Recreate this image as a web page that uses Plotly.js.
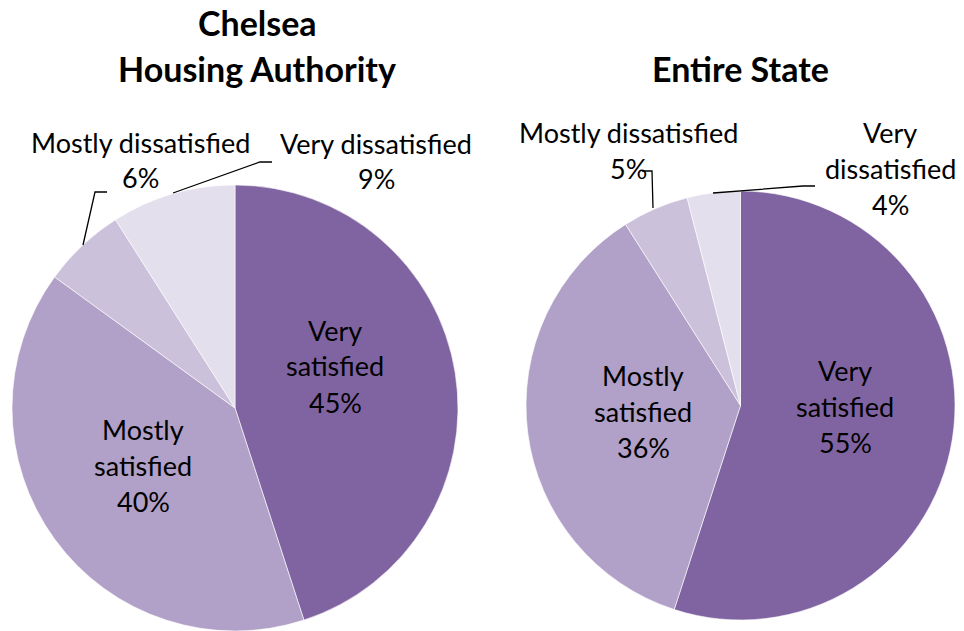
<!DOCTYPE html>
<html>
<head>
<meta charset="utf-8">
<script src="https://cdn.plot.ly/plotly-3.0.1.min.js"></script>
<style>html,body{margin:0;padding:0;background:#fff;}#chart{width:964px;height:631px;}</style>
</head>
<body>
<div id="chart"></div>
<script>
// ---- data ----
const categories = ["Very satisfied", "Mostly satisfied", "Mostly dissatisfied", "Very dissatisfied"];
const chelseaValues = [45, 40, 6, 9];
const stateValues = [55, 36, 5, 4];
const chelseaDisplay = ["Very<br>satisfied", "Mostly<br>satisfied", "Mostly dissatisfied", "Very dissatisfied"];
const stateDisplay = ["Very<br>satisfied", "Mostly<br>satisfied", "Mostly dissatisfied", "Very<br>dissatisfied"];
const chartTitles = ["Chelsea<br>Housing Authority", "Entire State"];
const sliceColors = ["#8064A2", "#B1A0C7", "#CCC1DA", "#E4DFEC"];

// ---- layout helpers (pixel -> paper) ----
const W = 964, H = 631;
const px = x => x / W;
const py = y => 1 - y / H;
const FONT = "Lato, 'Open Sans', sans-serif";

function pieTrace(values, name, dom) {
  return {
    type: "pie",
    name: name,
    labels: categories,
    values: values,
    sort: false,
    direction: "clockwise",
    rotation: 0,
    textinfo: "none",
    hoverinfo: "label+percent",
    marker: {colors: sliceColors, line: {color: "#ffffff", width: 0.6}},
    domain: dom,
    showlegend: false
  };
}

const traces = [
  pieTrace(chelseaValues, chartTitles[0], {x: [px(12), px(458)], y: [py(631), py(185)]}),
  pieTrace(stateValues, chartTitles[1], {x: [px(526), px(955)], y: [py(621), py(190)]})
];

// label anchor positions (center x, first-line center y), line spacing
const LS = 36;
const chelseaPos = [[335, 330], [143, 429], [140, 142], [376, 143]];
const statePos = [[845, 370], [643, 375], [628, 132], [890, 132]];

const annotations = [];
function addLabels(display, values, pos) {
  display.forEach((d, i) => {
    const lines = d.split("<br>").concat([values[i] + "%"]);
    lines.forEach((ln, j) => {
      annotations.push({
        text: ln, xref: "paper", yref: "paper",
        x: px(pos[i][0]), y: py(pos[i][1] + j * LS),
        xanchor: "center", yanchor: "middle", showarrow: false,
        font: {family: FONT, size: 27, color: "#000"}
      });
    });
  });
}
addLabels(chelseaDisplay, chelseaValues, chelseaPos);
addLabels(stateDisplay, stateValues, statePos);

// titles
const titlePos = [[257, 22], [740, 68]];
chartTitles.forEach((t, i) => {
  t.split("<br>").forEach((ln, j) => {
    annotations.push({
      text: "<b>" + ln + "</b>", xref: "paper", yref: "paper",
      x: px(titlePos[i][0]), y: py(titlePos[i][1] + j * 46),
      xanchor: "center", yanchor: "middle", showarrow: false,
      font: {family: FONT, size: 34, color: "#000"}
    });
  });
});

// leader lines
const leaders = [
  [[83, 245], [95, 192], [107, 192]],
  [[173, 193], [260, 162], [272, 162]],
  [[653, 208], [652, 171], [642, 171]],
  [[713, 193], [803, 186], [815, 186]]
];
const shapes = leaders.map(pts => ({
  type: "path", xref: "paper", yref: "paper",
  path: pts.map((p, k) => (k ? "L" : "M") + px(p[0]) + "," + py(p[1])).join(" "),
  line: {color: "#000", width: 1.3}
}));

const layout = {
  width: W, height: H,
  margin: {l: 0, r: 0, t: 0, b: 0},
  paper_bgcolor: "#ffffff",
  plot_bgcolor: "#ffffff",
  showlegend: false,
  annotations: annotations,
  shapes: shapes
};

Plotly.newPlot("chart", traces, layout, {displayModeBar: false, staticPlot: true});
</script>
</body>
</html>
